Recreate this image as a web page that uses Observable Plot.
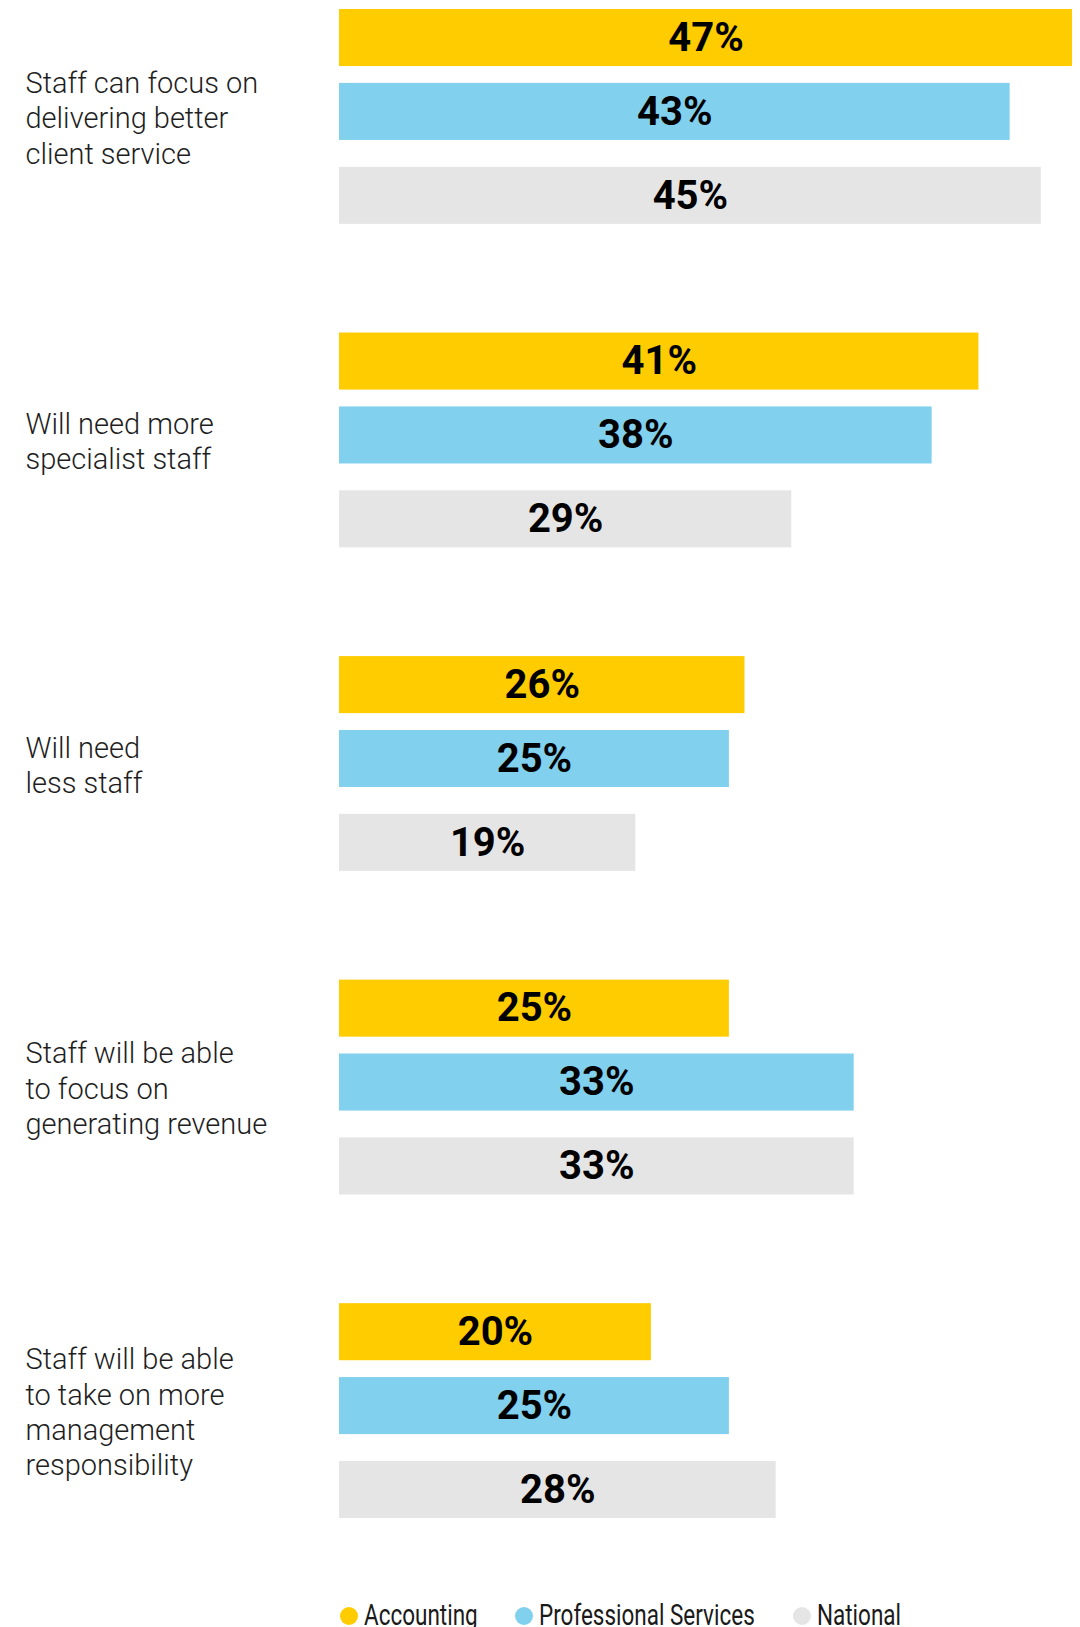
<!DOCTYPE html>
<html>
<head>
<meta charset="utf-8">
<script src="https://cdn.jsdelivr.net/npm/d3@7"></script>
<script src="https://cdn.jsdelivr.net/npm/@observablehq/plot@0.6"></script>
<style>
  html, body { margin: 0; padding: 0; background: #fff; overflow: hidden; }
  #chart svg { display: block; }
  #legend { display: flex; align-items: center; padding-top: 11px; padding-left: 340px;
            font-family: Roboto, sans-serif;
            font-size: 29px; line-height: 29px; color: #1a1a1a; white-space: nowrap; }
  .item { display: flex; align-items: center; }
  .dot { width: 18px; height: 18px; border-radius: 50%; margin-right: 6px; flex: none; }
  .lab { display: inline-block; transform: scaleX(0.775); transform-origin: left center; }
</style>
</head>
<body>
<div id="chart"></div>
<div id="legend"></div>
<script>
const questions = [
  "Staff can focus on\ndelivering better\nclient service",
  "Will need more\nspecialist staff",
  "Will need\nless staff",
  "Staff will be able\nto focus on\ngenerating revenue",
  "Staff will be able\nto take on more\nmanagement\nresponsibility"
];
const series = ["Accounting", "Professional Services", "National"];
const accounting = [47, 41, 26, 25, 20];
const professional = [43, 38, 25, 33, 25];
const national = [45, 29, 19, 33, 28];
const colors = ["#FFCC00", "#80D0EE", "#E5E5E5"];
const seriesShift = [0, -5, 0]; // visual nudge of the middle bar row

const seriesValues = [accounting, professional, national];
const rows = [];
questions.forEach((q, i) => {
  series.forEach((s, j) => rows.push({question: q, series: s, value: seriesValues[j][i]}));
});

const marks = [];
series.forEach((s, j) => {
  const data = rows.filter(d => d.series === s);
  marks.push(
    Plot.barX(data, {x: "value", y: "series", fy: "question", fill: "series", dy: seriesShift[j]}),
    Plot.text(data, {
      x: d => d.value / 2, y: "series", fy: "question", dy: seriesShift[j],
      text: d => d.value + "%",
      fontSize: 40, fontWeight: 700, fill: "#000",
      fontFamily: "Roboto, sans-serif"
    })
  );
});
marks.push(
  Plot.text(questions, {
    fy: d => d, text: d => d,
    frameAnchor: "left", textAnchor: "start", dx: -314,
    fontSize: 29, lineHeight: 1.22, fill: "#1e1e1e", fontWeight: 300,
    fontFamily: "Roboto, sans-serif"
  })
);

const chart = Plot.plot({
  width: 1080,
  height: 1590,
  marginLeft: 339,
  marginRight: 8,
  marginTop: 9,
  marginBottom: 72,
  x: {domain: [0, d3.max(rows, d => d.value)], axis: null},
  y: {domain: series, axis: null, paddingInner: 0.277, paddingOuter: 0, round: false},
  fy: {domain: questions, axis: null, paddingInner: 0.336, paddingOuter: 0, round: false},
  color: {domain: series, range: colors},
  marks
});
document.getElementById("chart").appendChild(chart);

const legend = d3.select("#legend");
series.forEach((s, j) => {
  const item = legend.append("div").attr("class", "item");
  item.append("div").attr("class", "dot").style("background", colors[j]);
  const lab = item.append("span").attr("class", "lab").text(s);
  const w = lab.node().getBoundingClientRect().width;
  const raw = lab.node().offsetWidth;
  lab.style("margin-right", (w - raw + (j < series.length - 1 ? 38 : 0)) + "px");
});
</script>
</body>
</html>
